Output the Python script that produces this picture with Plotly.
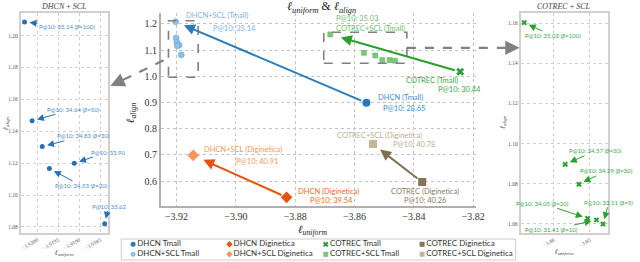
import plotly.graph_objects as go

W, H = 640, 262

# ---------------- data ----------------
base_models = ["DHCN (Tmall)", "COTREC (Tmall)", "DHCN (Diginetica)", "COTREC (Diginetica)"]
base_uniform = [-3.8560, -3.8244, -3.8829, -3.8372]
base_align = [0.899, 1.0176, 0.5377, 0.596]
base_p10 = [28.65, 30.44, 39.54, 40.26]

# SCL variants, beta sweeps (Tmall)
dhcn_scl_beta = [100, 50, 30, 10, 20, 5]
dhcn_scl_uniform = [-3.92030, -3.92012, -3.91988, -3.91912, -3.91971, -3.91840]
dhcn_scl_align = [1.2086, 1.1466, 1.1304, 1.1199, 1.1166, 1.0820]
dhcn_scl_p10 = [35.14, 34.64, 34.83, 33.90, 34.53, 33.62]

cotrec_scl_beta = [100, 50, 30, 20, 10, 5]
cotrec_scl_uniform = [-3.86818, -3.85684, -3.85302, -3.85065, -3.84819, -3.84637]
cotrec_scl_align = [1.1603, 1.0897, 1.0798, 1.0628, 1.0620, 1.0600]
cotrec_scl_p10 = [35.03, 34.57, 34.29, 34.05, 31.41, 33.11]

scl_models = ["DHCN+SCL (Tmall)", "COTREC+SCL (Tmall)", "DHCN+SCL (Diginetica)", "COTREC+SCL (Diginetica)"]
scl_uniform = [dhcn_scl_uniform[0], cotrec_scl_uniform[0], -3.91435, -3.85379]
scl_align = [dhcn_scl_align[0], cotrec_scl_align[0], 0.698, 0.741]
scl_p10 = [dhcn_scl_p10[0], cotrec_scl_p10[0], 40.91, 40.78]

legend_labels = ["DHCN Tmall", "DHCN+SCL Tmall", "DHCN Diginetica", "DHCN+SCL Diginetica",
                 "COTREC Tmall", "COTREC+SCL Tmall", "COTREC Diginetica", "COTREC+SCL Diginetica"]

main_xticks = [-3.92, -3.90, -3.88, -3.86, -3.84, -3.82]

# ---------------- styles ----------------
SANS = "Lato, 'Open Sans', sans-serif"
SERIF = "'Liberation Serif', 'DejaVu Serif', serif"

base_colors = ["#2b7bba", "#2e9a3a", "#e6550d", "#857356"]
base_text = ["#3d8fd6", "#3aa84a", "#ee6a1a", "#8a7b62"]
base_symbols = ["circle", "x", "diamond", "square"]
base_sizes = [8, 7, 9, 8]
scl_colors = ["#8fc0e6", "#7cc67c", "#f7955a", "#c6b699"]
scl_text = ["#7db4e3", "#6cc070", "#f59a55", "#bcae92"]
scl_symbols = ["circle", "square", "diamond", "square"]
scl_sizes = [6, 5, 9, 8]
arrow_colors = ["#2b7bba", "#2ca02c", "#e6550d", "#7f6f55"]

# label placements (pixel offsets from marker)
base_name_pos = [("left", 10, 5.4), ("right", 0, -8.3), ("left", 9.3, 5.8), ("center", 3, -9)]
base_p_pos = [("left", 14.3, -5.6), ("center", -1, -17.6), ("left", 21, -3.4), ("center", 3.4, -18.7)]
scl_name_pos = [("left", 8.4, 6), ("left", 4, 6.1), ("left", 9, 6), ("center", 6.4, 9)]
scl_p_pos = [("left", 35, -7), ("left", 4, 16.1), ("left", 40.7, -6.4), ("left", 18.4, 0)]

left_label_off = [(42.5, 4.7), (41.5, -11.4), (41.5, -10.7), (33.5, -11.3), (32.5, 17.3), (4, -17.7)]
left_clipped = [False, False, False, True, False, True]
right_label_off = [(28.5, 13.3), (30.5, -13.6), (27.5, -13.3), (-45.5, -15), (-44.5, 10), (5.8, -21.7)]

# ---------------- layout geometry ----------------
def px_x(p):
    return p / W

def px_y(p):
    return 1 - p / H

main_xdom = [px_x(163), px_x(483)]
main_ydom = [px_y(206), px_y(13)]
left_xdom = [px_x(21), px_x(110)]
right_xdom = [px_x(528), px_x(617)]
side_ydom = [px_y(233), px_y(13)]
leg_xdom = [px_x(123), px_x(523)]
leg_ydom = [px_y(260), px_y(239)]

main_xr = [-3.92532, -3.81900]
main_yr = [0.5045, 1.242]
left_xr = [-3.92039, -3.91831]
left_yr = [1.0762, 1.2142]
right_xr = [-3.86919, -3.84490]
right_yr = [1.0555, 1.1651]


def to_paper(v, rng, dom):
    return dom[0] + (v - rng[0]) / (rng[1] - rng[0]) * (dom[1] - dom[0])


fig = go.Figure()

# ---- main plot traces ----
fig.add_trace(go.Scatter(x=dhcn_scl_uniform, y=dhcn_scl_align, mode="markers",
                         marker=dict(symbol="circle", size=scl_sizes[0], color=scl_colors[0],
                                     line=dict(width=0.6, color="#6fa6d6")),
                         xaxis="x", yaxis="y", showlegend=False, hoverinfo="skip"))
fig.add_trace(go.Scatter(x=cotrec_scl_uniform, y=cotrec_scl_align, mode="markers",
                         marker=dict(symbol="square", size=scl_sizes[1], color=scl_colors[1],
                                     line=dict(width=0.5, color="#5cb35c")),
                         xaxis="x", yaxis="y", showlegend=False, hoverinfo="skip"))
for i in range(4):
    fig.add_trace(go.Scatter(x=[base_uniform[i]], y=[base_align[i]], mode="markers",
                             marker=dict(symbol=base_symbols[i], size=base_sizes[i],
                                         color=base_colors[i]),
                             xaxis="x", yaxis="y", showlegend=False, hoverinfo="skip"))
for i in [2, 3]:
    fig.add_trace(go.Scatter(x=[scl_uniform[i]], y=[scl_align[i]], mode="markers",
                             marker=dict(symbol=scl_symbols[i], size=scl_sizes[i],
                                         color=scl_colors[i]),
                             xaxis="x", yaxis="y", showlegend=False, hoverinfo="skip"))

# ---- side panels ----
fig.add_trace(go.Scatter(x=dhcn_scl_uniform, y=dhcn_scl_align, mode="markers",
                         marker=dict(symbol="circle", size=5, color="#2a72b5"),
                         xaxis="x2", yaxis="y2", showlegend=False, hoverinfo="skip"))
fig.add_trace(go.Scatter(x=cotrec_scl_uniform, y=cotrec_scl_align, mode="markers",
                         marker=dict(symbol="x", size=5, color="#2ca02c"),
                         xaxis="x3", yaxis="y3", showlegend=False, hoverinfo="skip"))

# ---- manual legend (grid of 4 columns x 2 rows) ----
leg_colors = [base_colors[0], scl_colors[0], base_colors[2], scl_colors[2],
              base_colors[1], scl_colors[1], base_colors[3], scl_colors[3]]
leg_symbols = [base_symbols[0], scl_symbols[0], base_symbols[2], scl_symbols[2],
               base_symbols[1], scl_symbols[1], base_symbols[3], scl_symbols[3]]
for k, lab in enumerate(legend_labels):
    col, row = k // 2, k % 2
    fig.add_trace(go.Scatter(x=[col], y=[row], mode="markers+text", text=[lab],
                             textposition="middle right",
                             textfont=dict(family=SANS, size=8, color="#333333"),
                             marker=dict(symbol=leg_symbols[k], size=5, color=leg_colors[k]),
                             xaxis="x4", yaxis="y4", showlegend=False, hoverinfo="skip",
                             cliponaxis=False))

annotations = []
shapes = []

# main arrows baseline -> SCL
standoffs = [9, 11, 11, 9]
for i in range(4):
    annotations.append(dict(x=scl_uniform[i], y=scl_align[i], ax=base_uniform[i], ay=base_align[i],
                            xref="x", yref="y", axref="x", ayref="y", text="", showarrow=True,
                            arrowhead=2, arrowsize=1.1, arrowwidth=2, arrowcolor=arrow_colors[i],
                            standoff=standoffs[i], startstandoff=4))

# main labels
for i in range(4):
    for (anc, dx, dy), txt in [(base_name_pos[i], base_models[i]),
                               (base_p_pos[i], "P@10: %.2f" % base_p10[i])]:
        annotations.append(dict(x=base_uniform[i], y=base_align[i], xref="x", yref="y",
                                text=txt, showarrow=False, xanchor=anc, xshift=dx, yshift=dy,
                                font=dict(family=SANS, size=7.5, color=base_text[i])))
    for (anc, dx, dy), txt in [(scl_name_pos[i], scl_models[i]),
                               (scl_p_pos[i], "P@10: %.2f" % scl_p10[i])]:
        annotations.append(dict(x=scl_uniform[i], y=scl_align[i], xref="x", yref="y",
                                text=txt, showarrow=False, xanchor=anc, xshift=dx, yshift=dy,
                                font=dict(family=SANS, size=7.5, color=scl_text[i])))

# side-panel labels with arrows
for k in range(len(dhcn_scl_beta)):
    txt = "P@10: %.2f" % dhcn_scl_p10[k]
    if not left_clipped[k]:
        txt += " (<i>β</i>=%d)" % dhcn_scl_beta[k]
    annotations.append(dict(x=dhcn_scl_uniform[k], y=dhcn_scl_align[k], xref="x2", yref="y2",
                            ax=left_label_off[k][0], ay=left_label_off[k][1], text=txt,
                            showarrow=True, arrowhead=2, arrowsize=1.4, arrowwidth=1,
                            arrowcolor="#2a72b5", standoff=5,
                            font=dict(family=SANS, size=6, color="#4a8fd0")))
for k in range(len(cotrec_scl_beta)):
    txt = "P@10: %.2f (<i>β</i>=%d)" % (cotrec_scl_p10[k], cotrec_scl_beta[k])
    annotations.append(dict(x=cotrec_scl_uniform[k], y=cotrec_scl_align[k], xref="x3", yref="y3",
                            ax=right_label_off[k][0], ay=right_label_off[k][1], text=txt,
                            showarrow=True, arrowhead=2, arrowsize=1.4, arrowwidth=1,
                            arrowcolor="#2ca02c", standoff=5,
                            font=dict(family=SANS, size=6, color="#3aa84a")))

# titles / axis titles
L = "<i>ℓ</i>"
uni = L + "<sub><i>uniform</i></sub>"
ali = L + "<sub><i>align</i></sub>"
def txt_ann(x, y, text, size, angle=0, color="#222"):
    return dict(x=x, y=y, xref="paper", yref="paper", text=text, showarrow=False,
                textangle=angle, font=dict(family=SERIF, size=size, color=color),
                xanchor="center", yanchor="middle")

annotations += [
    txt_ann(px_x(326), px_y(7), uni + " &amp; " + ali, 12),
    txt_ann(px_x(317), px_y(230), uni, 11),
    txt_ann(px_x(133), px_y(113), ali, 11, -90),
    txt_ann(px_x(65), px_y(7), "<i>DHCN</i> + <i>SCL</i>", 8, 0, "#444"),
    txt_ann(px_x(572), px_y(7), "<i>COTREC</i> + <i>SCL</i>", 8, 0, "#444"),
    txt_ann(px_x(6), px_y(123), ali, 7, -90, "#444"),
    txt_ann(px_x(65), px_y(253), uni, 7, 0, "#444"),
    txt_ann(px_x(510), px_y(122), ali, 7, -90, "#444"),
    txt_ann(px_x(572), px_y(252), uni, 7, 0, "#444"),
]

# zoom boxes in main plot (data extents + padding)
bx0 = min(dhcn_scl_uniform) - 0.0024
bx1 = max(dhcn_scl_uniform) + 0.0057
by0 = min(dhcn_scl_align) - 0.0858
by1 = max(dhcn_scl_align) + 0.004
cx0 = min(cotrec_scl_uniform) - 0.0022
cx1 = max(cotrec_scl_uniform) + 0.0040
cy0 = min(cotrec_scl_align) - 0.0102
cy1 = max(cotrec_scl_align) + 0.0080
box_line = dict(color="#808080", width=1.6, dash="dash")
shapes.append(dict(type="rect", xref="x", yref="y", x0=bx0, x1=bx1, y0=by0, y1=by1, line=box_line))
shapes.append(dict(type="rect", xref="x", yref="y", x0=cx0, x1=cx1, y0=cy0, y1=cy1, line=box_line))

conn_line = dict(color="#808080", width=2.2, dash="dash")
# left connector
sx = to_paper(bx0, main_xr, main_xdom) - px_x(5)
sy = to_paper(by0 + 0.3 * (by1 - by0), main_yr, main_ydom)
ex, ey = left_xdom[1] + px_x(2), px_y(86)
shapes.append(dict(type="line", xref="paper", yref="paper", x0=sx, y0=sy,
                   x1=ex + px_x(8), y1=ey + (sy - ey) * 0.15, line=conn_line))
annotations.append(dict(x=ex, y=ey, xref="paper", yref="paper", ax=10.8, ay=-5.1, text="",
                        showarrow=True, arrowhead=2, arrowsize=1.3, arrowwidth=2.2,
                        arrowcolor="#808080"))
# right connector
rsx = to_paper(cx1, main_xr, main_xdom)
rsy = to_paper(0.5 * (cy0 + cy1), main_yr, main_ydom)
rex = right_xdom[0] - px_x(1)
shapes.append(dict(type="line", xref="paper", yref="paper", x0=rsx, y0=rsy,
                   x1=rex - px_x(8), y1=rsy, line=conn_line))
annotations.append(dict(x=rex, y=rsy, xref="paper", yref="paper", ax=-12, ay=0, text="",
                        showarrow=True, arrowhead=2, arrowsize=1.3, arrowwidth=2.2,
                        arrowcolor="#808080"))

# legend frame
shapes.append(dict(type="rect", xref="paper", yref="paper", x0=leg_xdom[0], x1=leg_xdom[1],
                   y0=leg_ydom[0], y1=leg_ydom[1], line=dict(color="#cccccc", width=1),
                   fillcolor="rgba(0,0,0,0)", layer="below"))

grid_main = dict(showgrid=True, gridcolor="#c4c4c4", gridwidth=1.2, griddash="dot", zeroline=False)
grid_side = dict(showgrid=True, gridcolor="#d0d0d0", gridwidth=1, griddash="dot", zeroline=False)
tick_main = dict(family=SERIF, size=10, color="#333")
tick_side = dict(family=SERIF, size=5.5, color="#555")

fig.update_layout(
    width=W, height=H, margin=dict(l=0, r=0, t=0, b=0),
    paper_bgcolor="white", plot_bgcolor="rgba(0,0,0,0)",
    showlegend=False,
    xaxis=dict(domain=main_xdom, range=main_xr, anchor="y", tickvals=main_xticks,
               tickformat=".2f", showline=True, linecolor="#b0b0b0", linewidth=1.5,
               tickfont=tick_main, ticks="", **grid_main),
    yaxis=dict(domain=main_ydom, range=main_yr, anchor="x", dtick=0.1, tick0=0.6,
               tickformat=".1f", showline=True, linecolor="#b0b0b0", linewidth=1.5,
               tickfont=tick_main, ticks="", **grid_main),
    xaxis2=dict(domain=left_xdom, range=left_xr, anchor="y2", dtick=0.0005, tick0=-3.92,
                tickformat=".4f", tickangle=-30, showline=True, mirror=True,
                linecolor="#d0d0d0", linewidth=1.5, tickfont=tick_side, ticks="", **grid_side),
    yaxis2=dict(domain=side_ydom, range=left_yr, anchor="x2", dtick=0.02, tick0=1.0,
                tickformat=".2f", showline=True, mirror=True,
                linecolor="#d0d0d0", linewidth=1.5, tickfont=tick_side, ticks="", **grid_side),
    xaxis3=dict(domain=right_xdom, range=right_xr, anchor="y3", dtick=0.01, tick0=-3.9,
                tickformat=".2f", tickangle=-30, showline=True, mirror=True,
                linecolor="#d0d0d0", linewidth=1.5, tickfont=tick_side, ticks="", **grid_side),
    yaxis3=dict(domain=side_ydom, range=right_yr, anchor="x3", dtick=0.02, tick0=1.0,
                tickformat=".2f", showline=True, mirror=True,
                linecolor="#d0d0d0", linewidth=1.5, tickfont=tick_side, ticks="", **grid_side),
    xaxis4=dict(domain=leg_xdom, range=[-0.1228, 3.971], anchor="y4", visible=False,
                fixedrange=True),
    yaxis4=dict(domain=leg_ydom, range=[1.57, -0.53], anchor="x4", visible=False,
                fixedrange=True),
    annotations=annotations,
    shapes=shapes,
)

fig.write_html("out.html", config={"displayModeBar": False},
               post_script="document.body.style.margin='0';")
